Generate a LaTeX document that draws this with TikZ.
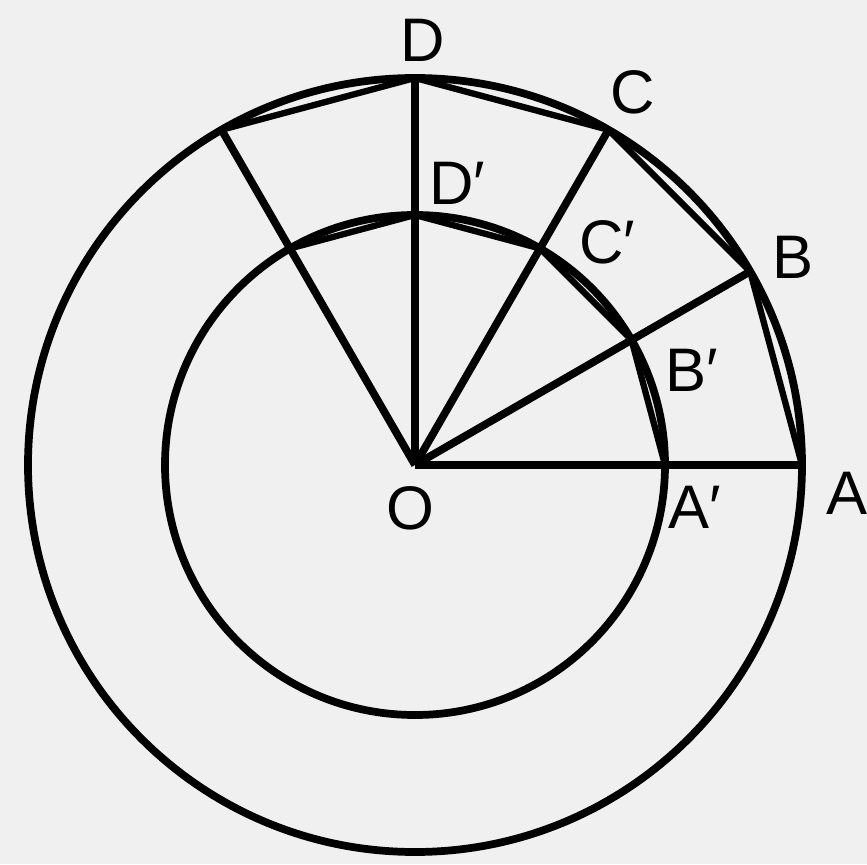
\documentclass[tikz,border=0pt]{standalone}
\usepackage{fontspec}
\setmainfont{Liberation Sans}
\begin{document}
\begin{tikzpicture}[line width=2.2pt, lbl/.style={font=\fontsize{17.5}{17.5}\selectfont, inner sep=0pt}]
\fill[black!6] (-4.15,-3.99) rectangle (4.52,4.65);
\useasboundingbox (-4.15,-3.99) rectangle (4.52,4.65);
\coordinate (O) at (0,0);
\draw (O) circle (3.87);
\draw (O) circle (2.50);
\foreach \n/\m/\a in {A/Ap/0,B/Bp/30,C/Cp/60,D/Dp/90,E/Ep/120} {
  \coordinate (\n) at (\a:3.87);
  \coordinate (\m) at (\a:2.50);
  \draw (O) -- (\n);
}
\draw[line width=1.8pt] (A) -- (B) -- (C) -- (D) -- (E);
\draw[line width=1.8pt] (Ap) -- (Bp) -- (Cp) -- (Dp) -- (Ep);
\node[lbl] (labO) at (-0.05,-0.43) {O};
\node[lbl] (labA) at (4.32,-0.28) {A};
\node[lbl] (labB) at (3.78,2.08) {B};
\node[lbl] (labC) at (2.18,3.73) {C};
\node[lbl] (labD) at (0.08,4.25) {D};
\node[lbl] (labAp) at (2.80,-0.42) {A\char"2032};
\node[lbl] (labBp) at (2.77,0.95) {B\char"2032};
\node[lbl] (labCp) at (1.92,2.23) {C\char"2032};
\node[lbl] (labDp) at (0.42,2.82) {D\char"2032};
\end{tikzpicture}
\end{document}
